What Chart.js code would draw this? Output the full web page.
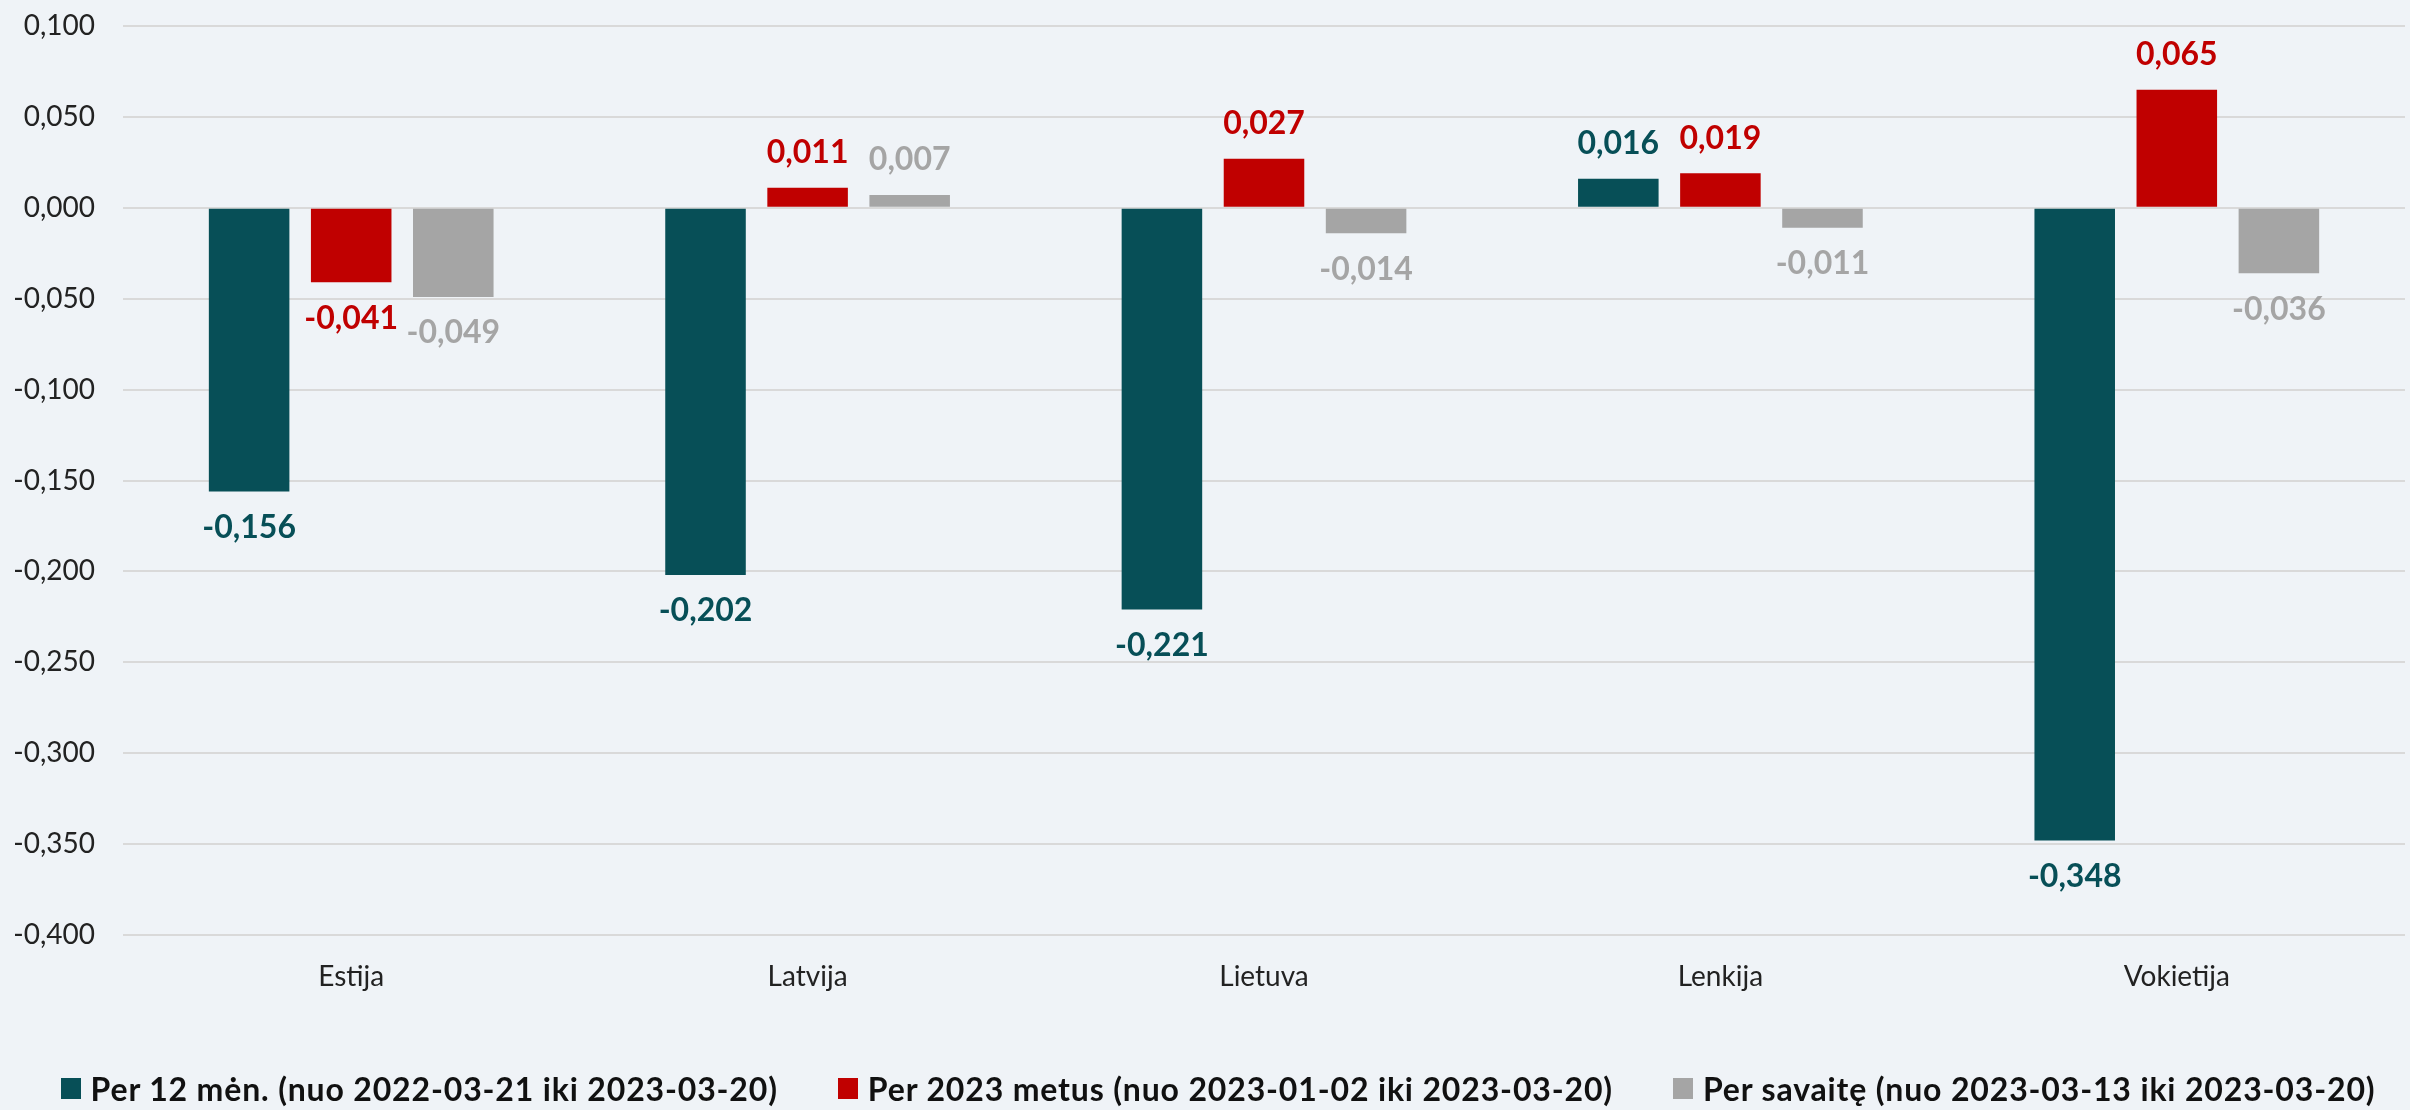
<!DOCTYPE html>
<html>
<head>
<meta charset="utf-8">
<script src="https://cdn.jsdelivr.net/npm/chart.js@4.4.1/dist/chart.umd.min.js"></script>
<style>
  html, body { margin: 0; padding: 0; background: #EFF3F7; }
  #wrap { position: relative; width: 2410px; height: 1110px; }
  #legend { position: absolute; left: 0; top: 1069px; width: 2410px; display: flex; justify-content: center;
            font-family: Lato, "Noto Sans", sans-serif; font-weight: bold; font-size: 32px; letter-spacing: 0.85px; color: #111; padding-left: 26px; box-sizing: border-box; }
  .item { display: flex; align-items: center; margin: 0 30px; }
  .sw { width: 20px; height: 21px; margin-right: 10px; }
</style>
</head>
<body>
<div id="wrap">
  <canvas id="c" width="2410" height="1110"></canvas>
  <div id="legend"></div>
</div>
<script>
const categories = ["Estija", "Latvija", "Lietuva", "Lenkija", "Vokietija"];
const seriesNames = [
  "Per 12 mėn. (nuo 2022-03-21 iki 2023-03-20)",
  "Per 2023 metus (nuo 2023-01-02 iki 2023-03-20)",
  "Per savaitę (nuo 2023-03-13 iki 2023-03-20)"
];
const per12men = [-0.156, -0.202, -0.221, 0.016, -0.348];
const per2023 = [-0.041, 0.011, 0.027, 0.019, 0.065];
const perSavaite = [-0.049, 0.007, -0.014, -0.011, -0.036];
const colors = ["#074F57", "#C00000", "#A5A5A5"];
const yMin = -0.4, yMax = 0.1, yStep = 0.05;

const fmt = v => (Math.abs(v) < 1e-9 ? 0 : v).toFixed(3).replace('.', ',');

const labelPlugin = {
  id: 'valueLabels',
  afterDatasetsDraw(chart) {
    const ctx = chart.ctx;
    ctx.save();
    ctx.font = 'bold 32px Lato, "Noto Sans", sans-serif';
    ctx.textAlign = 'center';
    ctx.textBaseline = 'middle';
    chart.data.datasets.forEach((ds, i) => {
      const meta = chart.getDatasetMeta(i);
      meta.data.forEach((el, j) => {
        const v = ds.data[j];
        ctx.fillStyle = colors[i];
        const y = v >= 0 ? el.y - 35 : el.y + 36;
        ctx.fillText(fmt(v), el.x, y);
      });
    });
    ctx.restore();
  }
};

const seriesData = [per12men, per2023, perSavaite];
new Chart(document.getElementById('c'), {
  type: 'bar',
  data: {
    labels: categories,
    datasets: seriesData.map((d, i) => ({
      label: seriesNames[i],
      data: d,
      backgroundColor: colors[i],
      borderWidth: 0,
      categoryPercentage: 0.671,
      barPercentage: 0.789
    }))
  },
  options: {
    responsive: false,
    animation: false,
    devicePixelRatio: 1,
    layout: { padding: { left: 0, right: 5, top: 26, bottom: 116 } },
    plugins: { legend: { display: false }, tooltip: { enabled: false } },
    scales: {
      x: {
        grid: { display: false, drawTicks: false },
        border: { display: false },
        ticks: { color: '#222', font: { family: 'Lato, "Noto Sans", sans-serif', size: 28 }, padding: 25 },
        afterFit: s => { s.height = 59; s.paddingLeft = 0; s.paddingRight = 0; }
      },
      y: {
        min: yMin, max: yMax,
        grid: { color: '#D9D9D9', lineWidth: 2, drawTicks: false },
        border: { display: false },
        ticks: {
          stepSize: yStep,
          color: '#222',
          font: { family: 'Lato, "Noto Sans", sans-serif', size: 28 },
          padding: 28,
          callback: v => fmt(v)
        },
        afterFit: s => { s.width = 123; s.paddingTop = 0; s.paddingBottom = 0; }
      }
    }
  },
  plugins: [labelPlugin]
});

const lg = document.getElementById('legend');
seriesNames.forEach((n, i) => {
  const it = document.createElement('div'); it.className = 'item';
  const sw = document.createElement('div'); sw.className = 'sw'; sw.style.background = colors[i];
  const t = document.createElement('span'); t.textContent = n;
  it.appendChild(sw); it.appendChild(t); lg.appendChild(it);
});
</script>
</body>
</html>
